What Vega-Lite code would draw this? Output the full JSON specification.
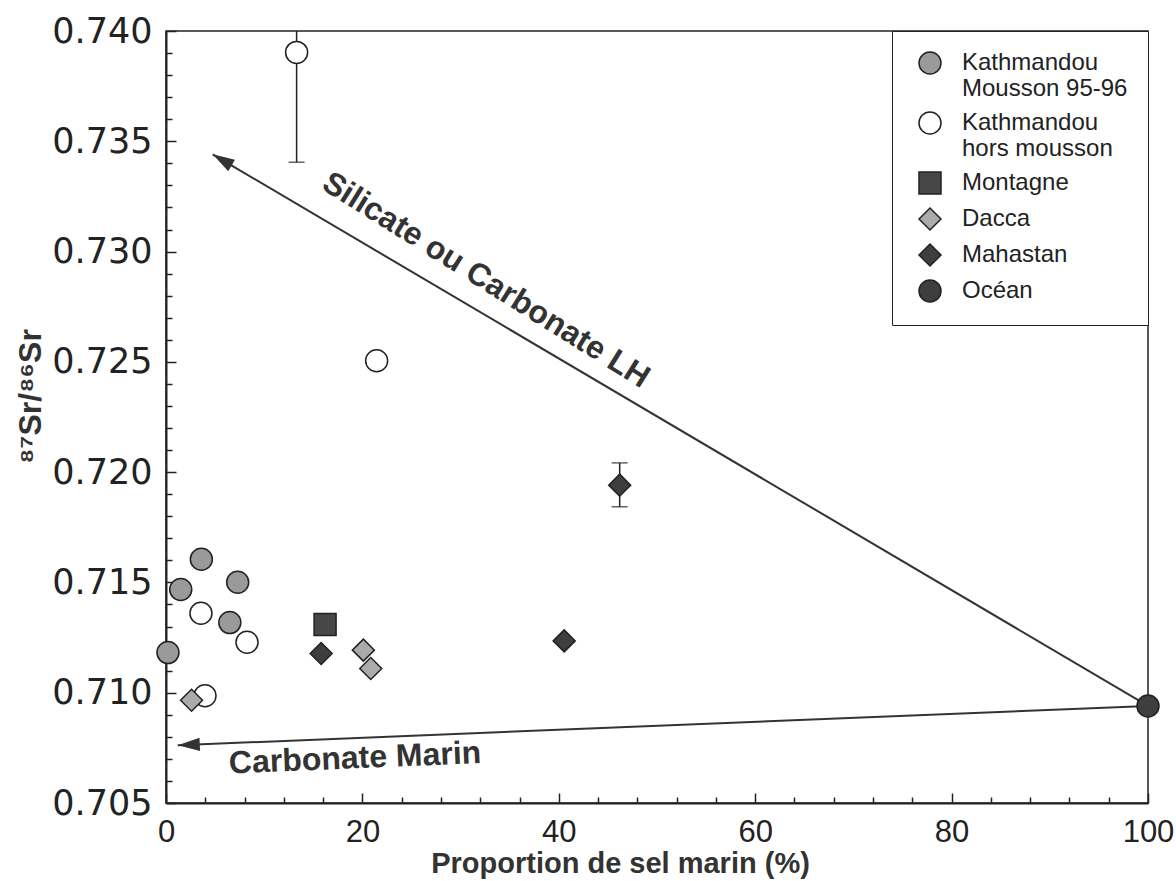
{
  "$schema": "https://vega.github.io/schema/vega-lite/v6.json",
  "width": 982,
  "height": 772,
  "autosize": {"type": "none"},
  "padding": {"left": 166, "top": 31, "right": 28, "bottom": 78},
  "background": "white",
  "config": {
    "view": {"stroke": "#222", "strokeWidth": 1.5},
    "font": "Liberation Sans"
  },
  "datasets": {
    "pts": [
      {"grp": "Kathmandou Mousson 95-96", "x": 3.6, "y": 0.71605},
      {"grp": "Kathmandou Mousson 95-96", "x": 1.5, "y": 0.71468},
      {"grp": "Kathmandou Mousson 95-96", "x": 7.3, "y": 0.71501},
      {"grp": "Kathmandou Mousson 95-96", "x": 6.5, "y": 0.71318},
      {"grp": "Kathmandou Mousson 95-96", "x": 0.2, "y": 0.71182},
      {"grp": "Kathmandou hors mousson", "x": 13.3, "y": 0.73903},
      {"grp": "Kathmandou hors mousson", "x": 21.45, "y": 0.72505},
      {"grp": "Kathmandou hors mousson", "x": 3.56, "y": 0.7136},
      {"grp": "Kathmandou hors mousson", "x": 8.25, "y": 0.71229},
      {"grp": "Kathmandou hors mousson", "x": 3.97, "y": 0.70986},
      {"grp": "Montagne", "x": 16.2, "y": 0.71309},
      {"grp": "Dacca", "x": 2.6, "y": 0.70966},
      {"grp": "Dacca", "x": 20.1, "y": 0.71193},
      {"grp": "Dacca", "x": 20.85, "y": 0.7111},
      {"grp": "Mahastan", "x": 15.8, "y": 0.71178},
      {"grp": "Mahastan", "x": 40.55, "y": 0.71235},
      {"grp": "Mahastan", "x": 46.2, "y": 0.71941},
      {"grp": "Océan", "x": 100, "y": 0.7094}
    ],
    "err": [
      {"x": 13.3, "lo": 0.73405, "hi": 0.744},
      {"x": 46.2, "lo": 0.71843, "hi": 0.72042}
    ],
    "arrows": [
      {"id": "a1", "x": 100, "y": 0.7094, "x2": 4.75, "y2": 0.73441},
      {"id": "a2", "x": 100, "y": 0.7094, "x2": 1.2, "y2": 0.70762}
    ],
    "labels": [
      {"id": "a1", "text": "Silicate ou Carbonate LH", "x": 32.6, "y": 0.72871},
      {"id": "a2", "text": "Carbonate Marin", "x": 19.25, "y": 0.70703}
    ]
  },
  "encoding": {
    "x": {
      "field": "x", "type": "quantitative",
      "scale": {"domain": [0, 100], "nice": false, "zero": false},
      "axis": {
        "title": "Proportion de sel marin (%)",
        "values": [0,4,8,12,16,20,24,28,32,36,40,44,48,52,56,60,64,68,72,76,80,84,88,92,96,100],
        "labelExpr": "datum.value % 20 === 0 ? datum.label : ''",
        "grid": false,
        "domainColor": "#222", "domainWidth": 2,
        "tickColor": "#222", "tickWidth": 1.5,
        "tickSize": {"condition": {"test": "datum.value % 20 === 0", "value": -10}, "value": -6},
        "labelPadding": 24,
        "labelFont": "Liberation Sans", "labelFontSize": 31, "labelColor": "#222",
        "labelFlush": false,
        "titleFont": "Liberation Sans", "titleFontWeight": "bold", "titleFontSize": 29, "titleColor": "#333",
        "titleBaseline": "alphabetic",
        "titleY": 69,
        "titleX": 454
      }
    },
    "y": {
      "field": "y", "type": "quantitative",
      "scale": {"domain": [0.705, 0.74], "nice": false, "zero": false},
      "axis": {
        "title": "⁸⁷Sr/⁸⁶Sr",
        "values": [0.705,0.706,0.707,0.708,0.709,0.71,0.711,0.712,0.713,0.714,0.715,0.716,0.717,0.718,0.719,0.72,0.721,0.722,0.723,0.724,0.725,0.726,0.727,0.728,0.729,0.73,0.731,0.732,0.733,0.734,0.735,0.736,0.737,0.738,0.739,0.74],
        "labelExpr": "round(datum.value*1000) % 5 === 0 ? format(datum.value, '.3f') : ''",
        "grid": false,
        "domainColor": "#222", "domainWidth": 2,
        "tickColor": "#222", "tickWidth": 1.5,
        "tickSize": {"condition": {"test": "round(datum.value*1000) % 5 === 0", "value": -10}, "value": -6},
        "labelPadding": 24,
        "labelFont": "DejaVu Sans", "labelFontSize": 35, "labelColor": "#222",
        "labelFlush": false,
        "titleFont": "Liberation Sans", "titleFontWeight": "bold", "titleFontSize": 32, "titleColor": "#333",
        "titlePadding": 4,
        "titleY": 365
      }
    }
  },
  "layer": [
    {
      "data": {"name": "arrows"},
      "mark": {"type": "rule", "color": "#333", "strokeWidth": 2},
      "encoding": {"x2": {"field": "x2"}, "y2": {"field": "y2"}}
    },
    {
      "data": {"name": "arrows"},
      "transform": [{"filter": "datum.id === 'a1'"}],
      "mark": {"type": "point", "shape": "M0,0L0.6,2L-0.6,2Z", "size": 484, "filled": true, "color": "#333", "opacity": 1, "angle": 300.5},
      "encoding": {"x": {"field": "x2", "type": "quantitative"}, "y": {"field": "y2", "type": "quantitative"}}
    },
    {
      "data": {"name": "arrows"},
      "transform": [{"filter": "datum.id === 'a2'"}],
      "mark": {"type": "point", "shape": "M0,0L0.6,2L-0.6,2Z", "size": 484, "filled": true, "color": "#333", "opacity": 1, "angle": 267.6},
      "encoding": {"x": {"field": "x2", "type": "quantitative"}, "y": {"field": "y2", "type": "quantitative"}}
    },
    {
      "data": {"name": "err"},
      "mark": {"type": "rule", "color": "#222", "strokeWidth": 1.5, "clip": true},
      "encoding": {"y": {"field": "lo", "type": "quantitative"}, "y2": {"field": "hi"}}
    },
    {
      "data": {"name": "err"},
      "mark": {"type": "tick", "orient": "horizontal", "color": "#222", "thickness": 1.5, "size": 16, "clip": true},
      "encoding": {"y": {"field": "lo", "type": "quantitative"}}
    },
    {
      "data": {"name": "err"},
      "mark": {"type": "tick", "orient": "horizontal", "color": "#222", "thickness": 1.5, "size": 16, "clip": true},
      "encoding": {"y": {"field": "hi", "type": "quantitative"}}
    },
    {
      "data": {"name": "pts"},
      "mark": {"type": "point", "filled": true, "opacity": 1, "stroke": "#222", "strokeWidth": 1.5},
      "encoding": {
        "shape": {
          "field": "grp", "type": "nominal",
          "scale": {
            "domain": ["Kathmandou Mousson 95-96", "Kathmandou hors mousson", "Montagne", "Dacca", "Mahastan", "Océan"],
            "range": ["circle", "circle", "square", "diamond", "diamond", "circle"]
          },
          "legend": {
            "title": null,
            "orient": "top-right",
            "offset": 0,
            "padding": 20,
            "strokeColor": "#222",
            "fillColor": "white",
            "symbolOffset": 6,
            "labelOffset": 20,
            "rowPadding": 8,
            "labelFont": "Liberation Sans",
            "labelFontSize": 24,
            "labelColor": "#222",
            "labelLimit": 400,
            "symbolStrokeColor": "#222",
            "symbolStrokeWidth": 1.5,
            "labelExpr": "datum.label === 'Kathmandou Mousson 95-96' ? ['Kathmandou', 'Mousson 95-96'] : datum.label === 'Kathmandou hors mousson' ? ['Kathmandou', 'hors mousson'] : datum.label"
          }
        },
        "fill": {
          "field": "grp", "type": "nominal",
          "scale": {
            "domain": ["Kathmandou Mousson 95-96", "Kathmandou hors mousson", "Montagne", "Dacca", "Mahastan", "Océan"],
            "range": ["#9a9a9a", "#ffffff", "#474747", "#ababab", "#3e3e3e", "#3e3e3e"]
          }
        },
        "size": {
          "field": "grp", "type": "nominal",
          "scale": {
            "domain": ["Kathmandou Mousson 95-96", "Kathmandou hors mousson", "Montagne", "Dacca", "Mahastan", "Océan"],
            "range": [484, 484, 510, 740, 760, 515]
          }
        }
      }
    },
    {
      "data": {"name": "labels"},
      "transform": [{"filter": "datum.id === 'a1'"}],
      "mark": {"type": "text", "angle": 32, "font": "Liberation Sans", "fontWeight": "bold", "fontSize": 32, "color": "#333", "align": "center", "baseline": "middle"},
      "encoding": {"text": {"field": "text"}}
    },
    {
      "data": {"name": "labels"},
      "transform": [{"filter": "datum.id === 'a2'"}],
      "mark": {"type": "text", "angle": -2.4, "font": "Liberation Sans", "fontWeight": "bold", "fontSize": 32, "color": "#333", "align": "center", "baseline": "middle"},
      "encoding": {"text": {"field": "text"}}
    }
  ]
}
